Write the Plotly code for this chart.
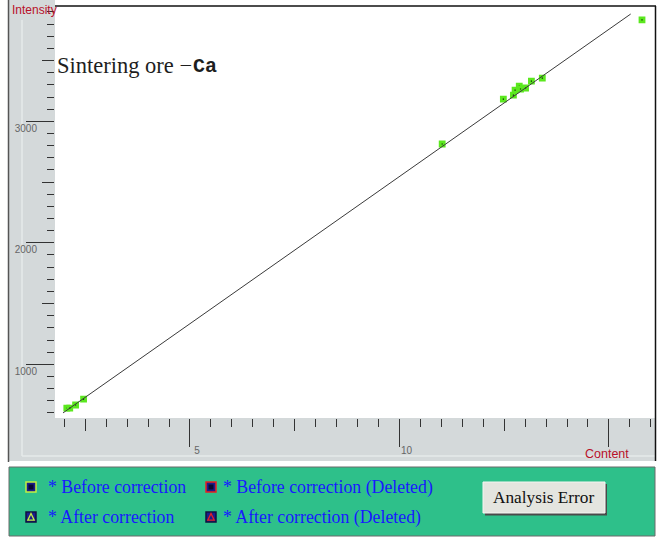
import plotly.graph_objects as go

W, H = 663, 543

# ---- data ----
before_x = [2.06, 2.13, 2.27, 2.46, 11.02, 12.48, 12.72, 12.76, 12.86, 12.89, 13.01, 13.15, 13.41, 15.79]
before_y = [640, 640, 665, 714, 2813, 3183, 3216, 3257, 3290, 3266, 3274, 3331, 3356, 3834]
fit_x = [1.97, 15.52]
fit_y = [600, 3883]
x_major_ticks = [5, 10, 15]
x_major_labels = ["5", "10", ""]
y_major_ticks = [1000, 2000, 3000]
y_major_labels = ["1000", "2000", "3000"]
legend_labels = ["* Before correction", "* Before correction (Deleted)",
                 "* After correction", "* After correction (Deleted)"]
title_main = "Sintering ore \u2212"
title_elem = "Ca"

X_RANGE = [1.778, 16.10]
Y_RANGE = [558, 3949]


def fx(p):
    return p / W


def fy(p):
    return 1 - p / H


GRAY = "rgb(212,217,218)"
GREEN = "rgb(46,192,138)"
NAVY = "#1c1c8c"
YG = "#c4f040"
RED = "#e82020"
BLUE = "#1818ff"
TICKC = "#333333"
LABC = "#666666"

fig = go.Figure()
fig.add_trace(go.Scatter(
    x=fit_x, y=fit_y, mode="lines", xaxis="x2", yaxis="y2",
    line=dict(color="#3a3a3a", width=1), showlegend=False, hoverinfo="skip"))
fig.add_trace(go.Scatter(
    x=before_x, y=before_y, mode="markers", name=legend_labels[0],
    marker=dict(symbol="square", size=4, color="#0a200a",
                line=dict(color="#5be81e", width=2.8)),
    showlegend=False))

shapes = []
# gray axis areas
shapes.append(dict(type="rect", xref="paper", yref="paper", x0=fx(9), x1=fx(655), y0=fy(461), y1=fy(418),
                   fillcolor=GRAY, line=dict(width=0), layer="below"))
shapes.append(dict(type="rect", xref="paper", yref="paper", x0=fx(9), x1=fx(55), y0=fy(461), y1=fy(0),
                   fillcolor=GRAY, line=dict(width=0), layer="below"))
# light stripe in gray area
shapes.append(dict(type="line", xref="paper", yref="paper", x0=fx(22), x1=fx(22), y0=fy(456), y1=fy(20),
                   line=dict(color="#e6eaea", width=1.5), layer="below"))
shapes.append(dict(type="line", xref="paper", yref="paper", x0=fx(22), x1=fx(655), y0=fy(456), y1=fy(456),
                   line=dict(color="#e6eaea", width=1.5), layer="below"))
# outer left border
shapes.append(dict(type="line", xref="paper", yref="paper", x0=fx(8.5), x1=fx(8.5), y0=fy(462), y1=fy(0),
                   line=dict(color="#555555", width=1.5)))
# plot frame top & right
shapes.append(dict(type="line", xref="paper", yref="paper", x0=fx(55), x1=fx(656), y0=fy(6), y1=fy(6),
                   line=dict(color="#111111", width=1.5)))
shapes.append(dict(type="line", xref="paper", yref="paper", x0=fx(655.5), x1=fx(655.5), y0=fy(461), y1=fy(6),
                   line=dict(color="#111111", width=1.5)))
# green legend panel
shapes.append(dict(type="rect", xref="paper", yref="paper", x0=fx(9), x1=fx(655), y0=fy(536), y1=fy(467),
                   fillcolor=GREEN, line=dict(color="#6a6a6a", width=1)))


def icon(cx, cy, edge, tri):
    s = []
    s.append(dict(type="rect", xref="paper", yref="paper", x0=fx(cx - 5), x1=fx(cx + 5),
                  y0=fy(cy + 5), y1=fy(cy - 5), fillcolor=NAVY,
                  line=dict(color=("#101040" if tri else edge), width=1.5)))
    if tri:
        path = "M %f %f L %f %f L %f %f Z" % (fx(cx), fy(cy - 3.5), fx(cx - 3.2), fy(cy + 3.2),
                                               fx(cx + 3.2), fy(cy + 3.2))
        s.append(dict(type="path", xref="paper", yref="paper", path=path,
                      line=dict(color=edge, width=1.3)))
    else:
        s.append(dict(type="rect", xref="paper", yref="paper", x0=fx(cx - 2.5), x1=fx(cx + 2.5),
                      y0=fy(cy + 2.5), y1=fy(cy - 2.5), fillcolor="#0a0a30", line=dict(width=0)))
    return s


shapes += icon(31, 487, YG, False)
shapes += icon(211, 487, RED, False)
shapes += icon(31, 517, YG, True)
shapes += icon(211, 517, RED, True)

# button
shapes.append(dict(type="rect", xref="paper", yref="paper", x0=fx(485), x1=fx(607), y0=fy(515.5), y1=fy(484),
                   fillcolor="#4a4a4a", line=dict(width=0)))
shapes.append(dict(type="rect", xref="paper", yref="paper", x0=fx(483), x1=fx(605), y0=fy(513), y1=fy(482),
                   fillcolor="#e4e5df", line=dict(color="#f6f6f2", width=1)))

ann = []
ann.append(dict(text="Intensity", xref="paper", yref="paper", x=fx(10), y=fy(10), xanchor="left",
                yanchor="middle", showarrow=False,
                font=dict(family="Liberation Sans", size=12, color="#b8102a")))
ann.append(dict(text="Content", xref="paper", yref="paper", x=fx(583), y=fy(454), xanchor="left",
                yanchor="middle", showarrow=False,
                font=dict(family="Liberation Sans", size=12.5, color="#b8102a")))
ann.append(dict(text=title_main, xref="paper", yref="paper", x=fx(55), y=fy(65), xanchor="left",
                yanchor="middle", showarrow=False,
                font=dict(family="Liberation Serif", size=22.5, color="#1e1e1e")))
ann.append(dict(text="<b>" + title_elem + "</b>", xref="paper", yref="paper", x=fx(191), y=fy(66),
                xanchor="left", yanchor="middle", showarrow=False,
                font=dict(family="Liberation Mono", size=20, color="#1e1e1e")))
pos = [(46, 487), (221, 487), (46, 517), (221, 517)]
for lab, (lx, ly) in zip(legend_labels, pos):
    ann.append(dict(text=lab, xref="paper", yref="paper", x=fx(lx), y=fy(ly), xanchor="left",
                    yanchor="middle", showarrow=False,
                    font=dict(family="Liberation Serif", size=17.8, color=BLUE)))
ann.append(dict(text="Analysis Error", xref="paper", yref="paper", x=fx(544), y=fy(497.5),
                xanchor="center", yanchor="middle", showarrow=False,
                font=dict(family="Liberation Serif", size=17.3, color="#111111")))

tickfont = dict(family="Liberation Sans", size=10, color=LABC)
xdom = [fx(55), fx(655)]
ydom = [fy(418), fy(6)]

fig.update_layout(
    width=W, height=H, autosize=False,
    margin=dict(l=0, r=0, t=0, b=0, pad=0),
    paper_bgcolor="white", plot_bgcolor="white",
    showlegend=False,
    shapes=shapes, annotations=ann,
    xaxis=dict(domain=xdom, range=X_RANGE, showgrid=False, zeroline=False, showline=False,
               ticks="outside", tick0=0, dtick=2.5, ticklen=12, tickcolor=TICKC, tickwidth=1,
               showticklabels=False, automargin=False, fixedrange=True,
               minor=dict(ticks="outside", tick0=0, dtick=0.5, ticklen=8, tickcolor=TICKC, tickwidth=1)),
    xaxis2=dict(overlaying="x", anchor="y", side="bottom", range=X_RANGE, showgrid=False,
                zeroline=False, showline=False, ticks="outside", tickmode="array",
                tickvals=x_major_ticks, ticktext=x_major_labels, ticklen=28, tickcolor=TICKC,
                tickwidth=1, tickfont=tickfont, ticklabelshift=7, ticklabelstandoff=-5,
                automargin=False, fixedrange=True),
    yaxis=dict(domain=ydom, range=Y_RANGE, showgrid=False, zeroline=False, showline=False,
               ticks="outside", tick0=0, dtick=500, ticklen=12, tickcolor=TICKC, tickwidth=1,
               showticklabels=False, automargin=False, fixedrange=True,
               minor=dict(ticks="outside", tick0=0, dtick=100, ticklen=7, tickcolor=TICKC, tickwidth=1)),
    yaxis2=dict(overlaying="y", anchor="x", side="left", range=Y_RANGE, showgrid=False,
                zeroline=False, showline=False, ticks="outside", tickmode="array",
                tickvals=y_major_ticks, ticktext=y_major_labels, ticklen=28, tickcolor=TICKC,
                tickwidth=1, tickfont=tickfont, ticklabelshift=7, ticklabelstandoff=-13,
                automargin=False, fixedrange=True),
)

fig.write_html("out.html", config={"displayModeBar": False},
               post_script="document.body.style.margin='0px';document.body.style.padding='0px';")
